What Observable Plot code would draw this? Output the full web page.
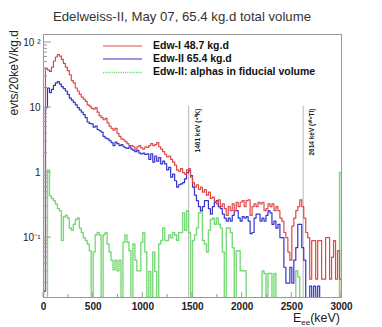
<!DOCTYPE html>
<html><head><meta charset="utf-8">
<script src="https://cdn.jsdelivr.net/npm/d3@7"></script>
<script src="https://cdn.jsdelivr.net/npm/@observablehq/plot@0.6"></script>
<style>
body{margin:0;background:#fff;font-family:"Liberation Sans",Arial,sans-serif;}
#title{width:364px;height:28px;text-align:center;font-size:13.2px;color:#333;line-height:34px;white-space:nowrap;}
#chart svg{overflow:visible;display:block;}
</style></head><body>
<div id="title">Edelweiss-II, May 07, 65.4 kg.d total volume</div>
<div id="chart"></div>
<script>
const titleText = "Edelweiss-II, May 07, 65.4 kg.d total volume";
const seriesNames = ["Edw-I 48.7 kg.d", "Edw-II 65.4 kg.d", "Edw-II: alphas in fiducial volume"];
const binWidth = 20; // keV
const xMax = 3000;
const xTicks = [0, 500, 1000, 1500, 2000, 2500, 3000];
const yTicks = [0.1, 1, 10, 100];
const yTickLabels = ["10\u207B\u00B9", "1", "10", "10 \u00B2"];
const yLabel = "evts/20keV/kg.d";

// Edw-I (red), one value per 20 keV bin from 0 to 2980 keV
const edw1 = [
  0.015, 40, 38, 36, 42, 52, 60, 65, 62, 55,
  48, 42, 37, 32, 26, 24, 20, 18, 16, 14.5,
  13.5, 12.5, 11, 10.5, 9.7, 9.5, 10, 8.5, 7.5, 7.0,
  6.5, 6.8, 5.8, 5.2, 4.8, 4.5, 4.8, 4.0, 3.6, 3.3,
  3.2, 3.0, 2.8, 2.6, 2.6, 2.5, 2.3, 2.5, 2.6, 2.4,
  2.3, 2.5, 2.45, 2.6, 2.8, 2.6, 2.7, 2.9, 2.5, 2.3,
  2.1, 1.9, 1.75, 1.8, 1.6, 1.45, 1.3, 1.1, 1.05, 1.15,
  1.0, 0.95, 1.1, 1.15, 0.85, 0.7, 0.6, 0.65, 0.55, 0.6,
  0.5, 0.55, 0.45, 0.5, 0.4, 0.42, 0.36, 0.33, 0.38, 0.3,
  0.33, 0.28, 0.22, 0.3, 0.26, 0.33, 0.26, 0.35, 0.3, 0.35,
  0.37, 0.3, 0.37, 0.38, 0.22, 0.3, 0.33, 0.3, 0.35, 0.33,
  0.35, 0.26, 0.28, 0.33, 0.3, 0.33, 0.26, 0.3, 0.26, 0.2,
  0.18, 0.12, 0.1, 0.06, 0.045, 0.15, 0.2, 0.26, 0.3, 0.38,
  0.3, 0.2, 0.12, 0.1, 0.023, 0.09, 0.09, 0.023, 0.09, 0.09,
  0.023, 0.023, 0.1, 0.1, 0.023, 0.05, 0.09, 0.023, 0.063, 0.023
];
// Edw-II (blue)
const edw2 = [
  0.015, 10, 20, 17, 19, 22, 24, 25, 23, 21,
  19.5, 18, 16, 14, 13, 12, 11, 10, 9.2, 8.5,
  7.8, 7, 6, 5.7, 5.6, 5.0, 5.2, 4.6, 4.4, 4.2,
  3.6, 3.4, 3.3, 3.1, 2.9, 2.6, 2.95, 2.8, 2.6, 2.7,
  2.5, 2.4, 2.35, 2.5, 2.3, 2.2, 2.1, 2.2, 2.0, 1.94,
  2.0, 1.9, 1.94, 1.6, 1.94, 1.45, 1.8, 1.5, 1.7, 1.36,
  1.5, 1.36, 1.1, 1.2, 0.85, 0.95, 0.75, 0.6, 0.65, 0.67,
  0.7, 0.8, 1.0, 1.07, 0.9, 0.6, 0.45, 0.37, 0.3, 0.26,
  0.3, 0.37, 0.37, 0.28, 0.23, 0.3, 0.35, 0.37, 0.3, 0.28,
  0.23, 0.2, 0.18, 0.2, 0.18, 0.22, 0.26, 0.26, 0.2, 0.18,
  0.21, 0.2, 0.21, 0.18, 0.115, 0.12, 0.2, 0.23, 0.23, 0.18,
  0.2, 0.18, 0.22, 0.26, 0.24, 0.16, 0.18, 0.14, 0.16, 0.1,
  0.1, 0.035, 0.02, 0.02, 0.035, 0.02, 0.045, 0.07, 0.16, 0.16,
  0.07, 0.045, 0, 0, 0.018, 0, 0.018, 0, 0.018, 0,
  0, 0, 0, 0, 0, 0, 0, 0, 0, 0
];
// Edw-II alphas in fiducial volume (green dotted)
const alphas = [
  0, 0, 1.1, 0.44, 0.4, 0.37, 0.33, 0.28, 0.26, 0.09,
  0.21, 0.22, 0.2, 0.14, 0.13, 0.16, 0.19, 0.2, 0.14, 0.12,
  0.1, 0.09, 0.08, 0.063, 0, 0.06, 0.11, 0.12, 0.11, 0,
  0.11, 0.12, 0.08, 0.06, 0.045, 0.032, 0.045, 0.031, 0.045, 0,
  0.085, 0.11, 0.085, 0.063, 0, 0.08, 0.045, 0.031, 0.031, 0.085,
  0.12, 0.06, 0, 0.03, 0, 0.06, 0.03, 0, 0.08, 0.09,
  0.14, 0.09, 0.09, 0.11, 0.1, 0.12, 0.11, 0.09, 0.12, 0.12,
  0.24, 0.13, 0.26, 0.12, 0, 0.09, 0.11, 0.14, 0.24, 0.26,
  0.09, 0.08, 0.06, 0.13, 0.19, 0.2, 0.16, 0.2, 0.16, 0.14,
  0.06, 0, 0.14, 0.14, 0.12, 0.07, 0, 0.063, 0.063, 0.031,
  0.031, 0.031, 0, 0, 0, 0, 0, 0, 0, 0,
  0.031, 0.028, 0, 0.028, 0.028, 0, 0.028, 0, 0, 0,
  0, 0, 0, 0, 0, 0, 0, 0.031, 0.025, 0,
  0, 0, 0, 0, 0, 0, 0, 0, 0, 0,
  0, 0, 0, 0, 0, 0, 0, 0, 0, 1.0
];
// gamma lines
const lineEnergies = [1461, 2614];
const lineLabels = ["1461 keV (\u2074\u2070K)", "2614 keV (\u00B2\u2070\u2078Tl)"];
const lineTop = 10.5;

const colors = ["#e04848", "#3434cc", "#74d874"];
const yDomain = [0.012, 133];
const floorVal = 1e-4;

function steps(vals, name) {
  const pts = [{x: 0, y: floorVal, s: name}];
  vals.forEach((v, i) => pts.push({x: i * binWidth, y: v > 0 ? v : floorVal, s: name}));
  pts.push({x: xMax, y: vals[vals.length - 1] > 0 ? vals[vals.length - 1] : floorVal, s: name});
  pts.push({x: xMax, y: floorVal, s: name});
  return pts;
}
const dRed = steps(edw1, seriesNames[0]);
const dBlue = steps(edw2, seriesNames[1]);
const dGreen = steps(alphas, seriesNames[2]);
const gLines = lineEnergies.map((e, i) => ({e, label: lineLabels[i]}));

const chart = Plot.plot({
  width: 382,
  height: 299,
  marginLeft: 43,
  marginRight: 41,
  marginTop: 6,
  marginBottom: 30,
  style: {fontFamily: "'Liberation Sans', Arial, sans-serif", fontSize: "10px", color: "#222", background: "#fff"},
  x: {domain: [0, xMax], ticks: xTicks, tickSize: 0, tickPadding: 5, label: null, tickFormat: d => String(d)},
  y: {type: "log", domain: yDomain, ticks: yTicks, tickSize: 0, tickPadding: 3, label: null,
      tickFormat: d => yTickLabels[yTicks.indexOf(d)] ?? ""},
  marks: [
    Plot.ruleX(gLines, {x: "e", y1: yDomain[0], y2: lineTop, stroke: "#b8b8b8", strokeWidth: 1}),
    Plot.text(gLines, {x: "e", y: lineTop * 0.92, text: "label", rotate: -90, textAnchor: "end", dx: 9, fontSize: 6.5, fontWeight: "bold", fill: "#222"}),
    Plot.line(dGreen, {x: "x", y: "y", curve: "step-after", stroke: colors[2], strokeWidth: 1.5, strokeDasharray: "1.2,1", clip: true}),
    Plot.line(dBlue, {x: "x", y: "y", curve: "step-after", stroke: colors[1], strokeWidth: 1.2, clip: true}),
    Plot.line(dRed, {x: "x", y: "y", curve: "step-after", stroke: colors[0], strokeWidth: 1.2, clip: true}),
    Plot.frame({stroke: "#999", strokeWidth: 1})
  ]
});
document.getElementById("chart").appendChild(chart);

const svg = d3.select(chart);
// bolder x tick labels like the reference
svg.selectAll("[aria-label='x-axis tick label'] text, g[aria-label='x-axis'] text").attr("font-weight", "bold");

// inner ticks, computed through Plot's scales
const sx = chart.scale("x"), sy = chart.scale("y");
const g = svg.append("g").attr("stroke", "#999").attr("stroke-width", 1);
const x0 = sx.apply(0), yb = sy.apply(yDomain[0]);
for (let k = -2; k <= 2; k++) {
  for (let m = 1; m <= 9; m++) {
    const v = m * Math.pow(10, k);
    if (v < yDomain[0] || v > yDomain[1]) continue;
    const yy = sy.apply(v);
    g.append("line").attr("x1", x0).attr("x2", x0 + (m === 1 ? 8 : 4)).attr("y1", yy).attr("y2", yy);
  }
}
for (let v = 0; v <= xMax; v += 250) {
  const xx = sx.apply(v);
  g.append("line").attr("x1", xx).attr("x2", xx).attr("y1", yb).attr("y2", yb - (v % 500 === 0 ? 5 : 3));
}

// y axis title
svg.append("text").attr("transform", `translate(15,2) rotate(-90)`).attr("text-anchor", "end")
  .attr("dominant-baseline", "middle").attr("font-size", 12).attr("fill", "#222").text(yLabel);

// x axis title with subscript
const xt = svg.append("text").attr("x", 340).attr("y", 294).attr("text-anchor", "end").attr("font-size", 12.5).attr("fill", "#222");
xt.append("tspan").text("E");
xt.append("tspan").attr("font-size", 8).attr("dy", 3).text("ee");
xt.append("tspan").attr("dy", -3).text("(keV)");

// legend
const leg = svg.append("g").attr("text-anchor", "start");
const legY = [18, 31, 44.5];
seriesNames.forEach((name, i) => {
  const ln = leg.append("line").attr("x1", 103).attr("x2", 142).attr("y1", legY[i]).attr("y2", legY[i])
    .attr("stroke", colors[i]).attr("stroke-width", i === 2 ? 1.5 : 1.2);
  if (i === 2) ln.attr("stroke-dasharray", "1.2,1");
  leg.append("text").attr("x", 153).attr("y", legY[i]).attr("dominant-baseline", "middle").attr("text-anchor", "start")
    .attr("font-size", 10.5).attr("font-weight", "bold").attr("fill", "#111").text(name);
});
</script>
</body></html>
